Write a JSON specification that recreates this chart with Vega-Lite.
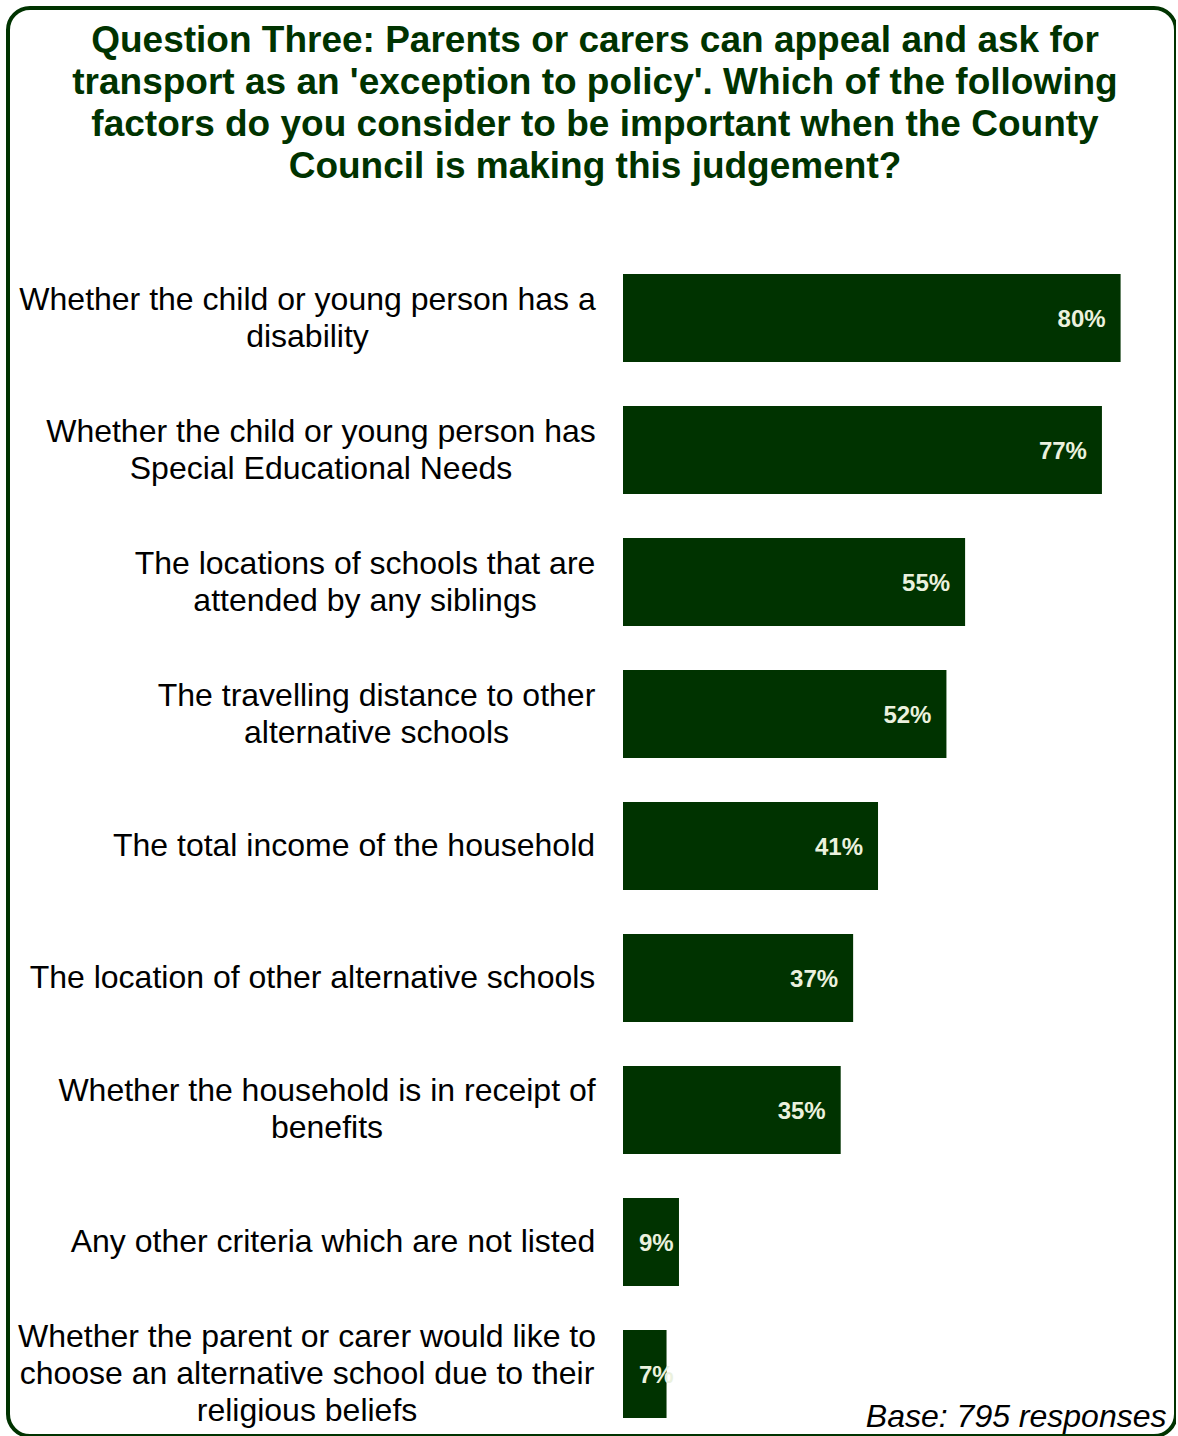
{
  "$schema": "https://vega.github.io/schema/vega-lite/v6.json",
  "width": 1168,
  "height": 1428,
  "autosize": {"type": "none"},
  "padding": {"left": 8, "top": 8, "right": 0, "bottom": 0},
  "background": "white",
  "view": {"stroke": "#003300", "strokeWidth": 4, "cornerRadius": 22, "fill": "white"},
  "config": {"font": "Liberation Sans"},
  "title": {
    "text": [
      "Question Three: Parents or carers can appeal and ask for",
      "transport as an 'exception to policy'. Which of the following",
      "factors do you consider to be important when the County",
      "Council is making this judgement?"
    ],
    "font": "Liberation Sans",
    "fontSize": 37,
    "fontWeight": "bold",
    "color": "#003300",
    "lineHeight": 42,
    "anchor": "middle",
    "offset": -178,
    "dx": 3
  },
  "data": {
    "values": [
      {"factor": "Whether the child or young person has a|disability", "pct": 0.80},
      {"factor": "Whether the child or young person has|Special Educational Needs", "pct": 0.77},
      {"factor": "The locations of schools that are|attended by any siblings", "pct": 0.55},
      {"factor": "The travelling distance to other|alternative schools", "pct": 0.52},
      {"factor": "The total income of the household", "pct": 0.41},
      {"factor": "The location of other alternative schools", "pct": 0.37},
      {"factor": "Whether the household is in receipt of|benefits", "pct": 0.35},
      {"factor": "Any other criteria which are not listed", "pct": 0.09},
      {"factor": "Whether the parent or carer would like to|choose an alternative school due to their|religious beliefs", "pct": 0.07}
    ]
  },
  "encoding": {
    "y": {
      "field": "factor",
      "type": "nominal",
      "sort": null,
      "scale": {"range": [244, 1432], "paddingInner": 0.3333, "paddingOuter": 0.1667},
      "axis": {
        "title": null,
        "domain": false,
        "ticks": false,
        "grid": false,
        "offset": -615,
        "labelExpr": "split(datum.label, '|')",
        "labelAlign": "center",
        "labelBaseline": "middle",
        "labelFont": "Liberation Sans",
        "labelFontSize": 32,
        "labelColor": "black",
        "labelLineHeight": 37,
        "labelLimit": 3000,
        "labelOverlap": false,
        "labelBound": false,
        "labelOffset": {"expr": "-(length(split(datum.value, '|')) - 1) * 18.5"},
        "labelPadding": {"expr": "[316,302.5,258.5,247,269.5,311,296.5,290.5,316.5][indexof(['Whether the child or young person has a|disability','Whether the child or young person has|Special Educational Needs','The locations of schools that are|attended by any siblings','The travelling distance to other|alternative schools','The total income of the household','The location of other alternative schools','Whether the household is in receipt of|benefits','Any other criteria which are not listed','Whether the parent or carer would like to|choose an alternative school due to their|religious beliefs'], datum.value)]"}
      }
    }
  },
  "layer": [
    {
      "mark": {"type": "bar", "color": "#003300"},
      "encoding": {
        "x": {
          "field": "pct",
          "type": "quantitative",
          "scale": {"domain": [0, 1], "range": [615, 1237]},
          "axis": {
            "title": "Base: 795 responses",
            "labels": false,
            "ticks": false,
            "domain": false,
            "grid": false,
            "titleFont": "Liberation Sans",
            "titleFontSize": 32,
            "titleFontStyle": "italic",
            "titleFontWeight": "normal",
            "titleColor": "black",
            "titleX": 1158,
            "titleY": -10,
            "titleAlign": "right",
            "titleBaseline": "alphabetic"
          }
        }
      }
    },
    {
      "transform": [{"filter": "datum.pct >= 0.2"}],
      "mark": {"type": "text", "align": "right", "baseline": "middle", "dx": -15, "dy": 2, "fontSize": 24, "fontWeight": "bold", "color": "#EBF1DE", "font": "Liberation Sans"},
      "encoding": {
        "x": {"field": "pct", "type": "quantitative"},
        "text": {"field": "pct", "type": "quantitative", "format": ".0%"}
      }
    },
    {
      "transform": [{"filter": "datum.pct < 0.2"}],
      "mark": {"type": "text", "align": "left", "baseline": "middle", "dx": 16, "dy": 2, "fontSize": 24, "fontWeight": "bold", "color": "#EBF1DE", "font": "Liberation Sans"},
      "encoding": {
        "x": {"datum": 0, "type": "quantitative"},
        "text": {"field": "pct", "type": "quantitative", "format": ".0%"}
      }
    }
  ]
}
